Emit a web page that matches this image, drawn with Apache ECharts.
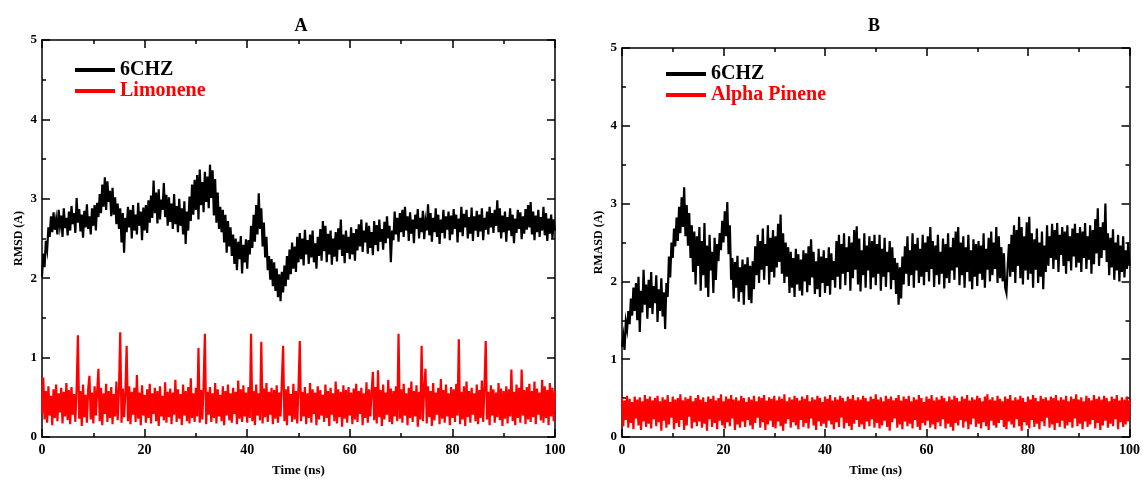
<!DOCTYPE html>
<html>
<head>
<meta charset="utf-8">
<script src="https://cdn.jsdelivr.net/npm/echarts@6/dist/echarts.min.js"></script>
<style>
  html, body { margin: 0; padding: 0; background: #fff; }
  #chart { width: 1143px; height: 482px; }
</style>
</head>
<body>
<div id="chart"></div>
<script>
// RMSD traces sampled every 0.25 ns over a 100 ns trajectory
const STEP_NS = 0.25;
const xTicks = [0, 20, 40, 60, 80, 100];
const yTicks = [0, 1, 2, 3, 4, 5];

const panelTitles = ['A', 'B'];
const yNames = ['RMSD (A)', 'RMASD (A)'];
const xName = 'Time (ns)';
const namesA = ['6CHZ', 'Limonene'];
const namesB = ['6CHZ', 'Alpha Pinene'];

// Panel A: protein backbone (6CHZ)
const rmsdA_protein = [
  2.02,2.31,2.14,2.47,2.36,2.64,2.52,2.78,2.58,2.83,2.61,2.74,2.55,2.86,2.66,2.79,2.52,2.88,2.63,2.76,
  2.54,2.84,2.60,2.91,2.68,2.82,2.57,3.01,2.70,2.87,2.59,2.80,2.51,2.85,2.64,2.93,2.62,2.78,2.55,2.88,
  2.66,2.92,2.60,2.95,2.77,3.06,2.82,3.18,2.90,3.27,2.86,3.22,2.96,3.10,2.78,3.14,2.80,3.02,2.68,2.94,
  2.62,2.88,2.45,2.82,2.32,2.76,2.58,2.90,2.64,2.86,2.50,2.92,2.60,2.80,2.55,2.95,2.66,2.84,2.48,2.89,
  2.60,2.92,2.57,2.98,2.70,3.04,2.76,3.23,2.82,3.08,2.69,3.12,2.74,2.99,2.86,3.20,2.77,3.05,2.66,3.02,
  2.71,2.94,2.62,3.06,2.68,2.91,2.58,3.00,2.66,2.88,2.55,2.97,2.43,2.84,2.60,3.03,2.72,3.18,2.80,3.24,
  2.86,3.30,2.74,3.37,2.92,3.21,2.83,3.34,2.96,3.28,2.88,3.43,3.01,3.36,2.79,3.25,2.70,3.08,2.62,2.90,
  2.58,2.86,2.45,2.80,2.32,2.72,2.40,2.64,2.28,2.55,2.18,2.50,2.10,2.46,2.24,2.53,2.06,2.42,2.20,2.49,
  2.12,2.48,2.30,2.66,2.38,2.80,2.46,2.92,2.55,3.07,2.62,2.88,2.40,2.70,2.26,2.52,2.10,2.28,1.98,2.24,
  1.90,2.20,1.84,2.12,1.76,2.05,1.71,2.08,1.82,2.16,1.90,2.28,1.98,2.36,2.05,2.45,2.12,2.40,2.08,2.52,
  2.20,2.57,2.24,2.50,2.16,2.61,2.30,2.48,2.18,2.55,2.26,2.60,2.20,2.44,2.12,2.52,2.28,2.62,2.22,2.72,
  2.34,2.66,2.20,2.56,2.30,2.60,2.17,2.50,2.27,2.58,2.21,2.63,2.36,2.74,2.28,2.55,2.19,2.60,2.32,2.52,
  2.24,2.64,2.30,2.57,2.22,2.62,2.35,2.68,2.40,2.74,2.33,2.60,2.45,2.70,2.31,2.66,2.38,2.58,2.29,2.72,
  2.42,2.67,2.34,2.74,2.46,2.62,2.36,2.71,2.44,2.78,2.50,2.66,2.20,2.60,2.48,2.84,2.55,2.76,2.46,2.82,
  2.58,2.86,2.52,2.90,2.60,2.78,2.47,2.83,2.56,2.74,2.44,2.80,2.62,2.87,2.50,2.76,2.58,2.85,2.49,2.72,
  2.60,2.93,2.54,2.82,2.46,2.76,2.58,2.88,2.52,2.80,2.43,2.74,2.57,2.86,2.50,2.78,2.61,2.84,2.48,2.79,
  2.55,2.87,2.62,2.80,2.45,2.75,2.58,2.90,2.53,2.81,2.64,2.86,2.50,2.77,2.56,2.89,2.47,2.78,2.60,2.85,
  2.52,2.80,2.59,2.88,2.48,2.76,2.61,2.84,2.55,2.90,2.64,2.82,2.57,2.86,2.66,2.98,2.58,2.88,2.50,2.79,
  2.58,2.84,2.46,2.77,2.60,2.88,2.53,2.80,2.44,2.75,2.57,2.86,2.62,2.83,2.49,2.78,2.56,2.87,2.61,2.92,
  2.64,2.96,2.55,2.84,2.48,2.79,2.58,2.86,2.52,2.77,2.60,2.90,2.54,2.82,2.47,2.75,2.56,2.80,2.50,2.74,
  2.60
];

// Panel A: ligand (Limonene)
const rmsdA_ligand = [
  0.30,0.75,0.22,0.58,0.18,0.64,0.27,0.52,0.15,0.60,0.24,0.66,0.20,0.55,0.31,0.62,0.17,0.57,0.26,0.68,
  0.21,0.59,0.16,0.63,0.28,0.54,0.19,0.61,1.28,0.23,0.58,0.14,0.66,0.25,0.53,0.18,0.60,0.77,0.22,0.56,
  0.17,0.64,0.27,0.57,0.86,0.20,0.62,0.15,0.55,0.29,0.67,0.19,0.58,0.24,0.63,0.16,0.54,0.26,0.70,0.21,
  0.58,1.32,0.18,0.61,0.25,0.55,1.15,0.20,0.64,0.16,0.57,0.28,0.62,0.19,0.78,0.23,0.56,0.15,0.65,0.27,
  0.53,0.18,0.60,0.24,0.67,0.17,0.55,0.29,0.62,0.20,0.58,0.14,0.64,0.26,0.52,0.21,0.69,0.18,0.57,0.25,
  0.61,0.16,0.56,0.28,0.72,0.19,0.60,0.23,0.54,0.15,0.66,0.27,0.58,0.20,0.63,0.17,0.74,0.24,0.55,0.19,
  0.62,0.26,1.12,0.18,0.59,0.22,0.65,1.30,0.16,0.57,0.28,0.63,0.19,0.55,0.24,0.68,0.17,0.60,0.26,0.53,
  0.20,0.64,0.15,0.58,0.27,0.66,0.21,0.55,0.18,0.62,0.29,0.57,0.16,0.71,0.23,0.60,0.19,0.65,0.26,0.56,
  0.18,0.63,0.24,1.30,0.20,0.58,0.15,0.66,0.27,0.55,0.21,1.20,0.17,0.61,0.25,0.68,0.19,0.57,0.28,0.62,
  0.16,0.59,0.23,0.65,0.18,0.56,0.26,0.70,1.15,0.20,0.60,0.15,0.64,0.27,0.54,0.19,0.67,0.22,0.58,0.17,
  0.62,1.21,0.20,0.57,0.26,0.63,0.16,0.55,0.24,0.68,0.18,0.60,0.29,0.56,0.15,0.64,0.22,0.59,0.27,0.53,
  0.19,0.66,0.24,0.58,0.14,0.62,0.28,0.55,0.20,0.70,0.17,0.60,0.25,0.57,0.13,0.65,0.23,0.59,0.18,0.63,
  0.27,0.56,0.16,0.61,0.22,0.67,0.19,0.58,0.29,0.62,0.15,0.55,0.24,0.69,0.18,0.60,0.26,0.57,0.82,0.21,
  0.63,0.17,0.84,0.25,0.59,0.14,0.66,0.22,0.56,0.28,0.72,0.19,0.61,0.16,0.58,0.26,0.64,0.20,1.30,0.23,
  0.60,0.18,0.67,0.27,0.55,0.15,0.62,0.24,0.70,0.19,0.58,0.26,0.65,0.13,0.57,0.22,1.15,0.20,0.61,0.86,
  0.17,0.64,0.25,0.58,0.14,0.68,0.21,0.56,0.28,0.62,0.16,0.73,0.23,0.59,0.18,0.66,0.26,0.55,0.15,0.63,
  0.24,0.60,0.19,0.67,0.27,1.23,0.16,0.57,0.22,0.64,0.14,0.70,0.25,0.58,0.18,0.62,0.28,0.55,0.20,0.66,
  0.16,0.59,0.24,0.71,0.19,0.63,1.21,0.22,0.57,0.15,0.65,0.27,0.60,0.18,0.56,0.25,0.68,0.21,0.61,0.14,
  0.58,0.23,0.64,0.17,0.60,0.26,0.85,0.20,0.57,0.15,0.66,0.24,0.62,0.18,0.85,0.27,0.59,0.16,0.63,0.22,
  0.67,0.19,0.58,0.25,0.70,0.16,0.61,0.28,0.56,0.21,0.72,0.18,0.64,0.24,0.59,0.15,0.68,0.26,0.62,0.20,
  0.58
];

// Panel B: protein backbone (6CHZ)
const rmsdB_protein = [
  1.16,1.30,1.12,1.48,1.38,1.62,1.45,1.78,1.56,1.92,1.62,1.98,1.50,2.06,1.35,1.88,1.60,2.15,1.70,1.96,
  1.52,2.02,1.66,2.12,1.58,1.94,1.72,2.08,1.48,1.90,1.62,2.04,1.55,1.86,1.39,1.98,1.80,2.32,2.05,2.50,
  2.30,2.68,2.45,2.82,2.52,2.96,2.62,3.08,2.70,3.21,2.58,2.98,2.46,2.88,2.30,2.72,2.12,2.64,1.96,2.58,
  2.20,2.70,1.88,2.52,2.08,2.75,1.92,2.46,1.80,2.60,2.14,2.38,1.85,2.56,2.02,2.48,2.26,2.62,2.40,2.78,
  2.50,2.90,2.58,3.02,2.35,2.72,2.02,2.30,1.78,2.25,1.92,2.33,1.74,2.18,1.86,2.28,1.70,2.22,1.95,2.31,
  1.76,2.20,1.72,2.26,1.90,2.45,2.08,2.60,1.98,2.52,2.15,2.68,2.02,2.48,2.20,2.72,1.96,2.56,2.12,2.66,
  2.05,2.58,2.18,2.74,2.25,2.86,2.10,2.62,1.98,2.50,2.06,2.44,1.85,2.38,1.92,2.30,1.80,2.42,1.96,2.35,
  1.88,2.28,1.82,2.40,2.00,2.36,1.86,2.45,1.95,2.54,2.05,2.38,1.84,2.26,1.90,2.42,1.80,2.32,1.98,2.40,
  1.85,2.30,1.94,2.44,1.83,2.36,2.02,2.26,1.92,2.52,2.06,2.60,1.90,2.48,2.10,2.62,1.95,2.44,2.12,2.58,
  1.88,2.50,2.04,2.66,2.15,2.71,1.96,2.55,1.87,2.40,2.08,2.62,1.92,2.46,2.14,2.58,1.90,2.52,2.05,2.60,
  1.95,2.48,2.10,2.60,1.88,2.42,2.06,2.56,1.93,2.38,2.12,2.52,1.90,2.44,2.02,2.30,1.84,2.24,1.70,2.18,
  1.78,2.32,1.96,2.45,2.10,2.58,1.94,2.40,2.08,2.62,1.92,2.48,2.14,2.56,1.98,2.42,2.06,2.60,1.95,2.50,
  2.12,2.58,2.00,2.70,2.16,2.52,1.93,2.46,2.08,2.60,1.96,2.38,2.10,2.55,1.91,2.48,2.04,2.62,1.98,2.44,
  2.14,2.56,2.02,2.64,2.18,2.70,1.95,2.50,2.08,2.58,1.92,2.44,2.12,2.60,2.00,2.40,1.90,2.54,2.06,2.48,
  1.94,2.52,2.10,2.46,2.02,2.62,1.92,2.42,2.15,2.56,2.00,2.64,2.08,2.50,2.16,2.70,1.98,2.58,2.04,2.44,
  2.00,2.36,1.92,1.85,2.20,2.48,2.06,2.60,2.12,2.72,1.98,2.66,2.20,2.83,2.04,2.70,1.96,2.58,2.14,2.76,
  2.02,2.83,2.10,2.62,1.92,2.54,2.15,2.68,1.98,2.50,2.06,2.64,1.90,2.46,2.12,2.72,2.20,2.58,2.30,2.74,
  2.16,2.66,2.28,2.75,2.12,2.60,2.34,2.70,2.20,2.64,2.10,2.72,2.26,2.58,2.14,2.68,2.32,2.74,2.18,2.62,
  2.24,2.70,2.12,2.64,2.30,2.75,2.16,2.58,2.28,2.72,2.10,2.66,2.22,2.80,2.36,2.94,2.20,2.70,2.30,2.76,
  2.40,3.00,2.25,2.62,2.08,2.56,2.18,2.67,2.02,2.50,2.14,2.60,2.00,2.46,2.12,2.58,2.05,2.40,2.16,2.50,
  2.20
];

// Panel B: ligand (Alpha Pinene)
const rmsdB_ligand = [
  0.50,0.14,0.47,0.22,0.53,0.12,0.49,0.18,0.45,0.10,0.52,0.24,0.48,0.15,0.51,0.09,0.46,0.20,0.54,0.13,
  0.49,0.17,0.52,0.11,0.47,0.23,0.50,0.14,0.53,0.19,0.46,0.08,0.51,0.21,0.48,0.12,0.54,0.16,0.45,0.25,
  0.52,0.10,0.48,0.18,0.50,0.13,0.55,0.22,0.47,0.09,0.51,0.15,0.49,0.26,0.53,0.11,0.46,0.19,0.50,0.14,
  0.54,0.20,0.48,0.12,0.51,0.17,0.45,0.08,0.52,0.23,0.49,0.13,0.53,0.18,0.47,0.10,0.50,0.21,0.55,0.15,
  0.46,0.11,0.52,0.19,0.49,0.14,0.54,0.24,0.48,0.09,0.51,0.16,0.47,0.12,0.53,0.20,0.50,0.13,0.45,0.22,
  0.51,0.15,0.48,0.10,0.53,0.18,0.46,0.25,0.52,0.12,0.50,0.19,0.54,0.09,0.47,0.16,0.51,0.21,0.49,0.13,
  0.53,0.11,0.47,0.20,0.52,0.14,0.49,0.08,0.55,0.17,0.46,0.23,0.51,0.12,0.48,0.19,0.53,0.15,0.50,0.10,
  0.47,0.22,0.52,0.13,0.49,0.18,0.54,0.11,0.46,0.24,0.51,0.15,0.48,0.09,0.53,0.20,0.50,0.14,0.45,0.17,
  0.52,0.12,0.49,0.21,0.54,0.16,0.47,0.10,0.51,0.19,0.48,0.13,0.53,0.25,0.50,0.11,0.46,0.18,0.52,0.14,
  0.49,0.09,0.54,0.17,0.47,0.22,0.51,0.13,0.48,0.16,0.53,0.10,0.50,0.20,0.46,0.14,0.52,0.23,0.49,0.12,
  0.55,0.18,0.48,0.11,0.51,0.15,0.46,0.21,0.53,0.13,0.49,0.08,0.52,0.19,0.47,0.24,0.50,0.12,0.54,0.16,
  0.47,0.10,0.52,0.20,0.49,0.14,0.53,0.17,0.46,0.11,0.51,0.22,0.48,0.13,0.54,0.09,0.50,0.18,0.45,0.15,
  0.52,0.21,0.49,0.12,0.54,0.16,0.47,0.10,0.51,0.19,0.48,0.14,0.53,0.23,0.50,0.11,0.46,0.17,0.52,0.13,
  0.48,0.08,0.53,0.18,0.50,0.15,0.46,0.22,0.52,0.12,0.49,0.20,0.54,0.10,0.47,0.16,0.51,0.24,0.48,0.13,
  0.53,0.17,0.50,0.11,0.46,0.19,0.52,0.14,0.55,0.09,0.48,0.21,0.51,0.15,0.47,0.12,0.53,0.18,0.49,0.22,
  0.46,0.13,0.52,0.10,0.49,0.20,0.54,0.16,0.47,0.12,0.51,0.23,0.48,0.14,0.53,0.08,0.50,0.19,0.45,0.15,
  0.52,0.11,0.48,0.22,0.54,0.13,0.50,0.17,0.46,0.10,0.53,0.20,0.49,0.14,0.51,0.25,0.47,0.12,0.52,0.16,
  0.50,0.09,0.54,0.18,0.47,0.13,0.51,0.21,0.48,0.11,0.53,0.15,0.46,0.19,0.52,0.12,0.49,0.24,0.55,0.14,
  0.48,0.17,0.51,0.10,0.46,0.20,0.53,0.13,0.50,0.16,0.47,0.22,0.54,0.11,0.49,0.18,0.52,0.09,0.48,0.15,
  0.53,0.21,0.50,0.12,0.46,0.17,0.52,0.14,0.49,0.23,0.54,0.10,0.47,0.19,0.51,0.13,0.48,0.16,0.52,0.20,
  0.47
];

const SERIF = '"Liberation Serif", "Times New Roman", serif';
const BLACK = '#000000';
const RED = '#ff0000';

function pairs(values) {
  return values.map((v, i) => [i * STEP_NS, v]);
}

function xAxisFor(gridIndex, position) {
  const bottom = position === 'bottom';
  return {
    type: 'value', gridIndex, position,
    min: xTicks[0], max: xTicks[xTicks.length - 1], interval: xTicks[1] - xTicks[0],
    name: bottom ? xName : '',
    nameLocation: 'middle', nameGap: 27,
    nameTextStyle: { fontFamily: SERIF, fontWeight: 'bold', fontSize: 13, color: BLACK },
    axisLine: { show: true, onZero: false, lineStyle: { color: BLACK, width: 1.5 } },
    axisTick: { show: true, inside: true, length: 8, lineStyle: { color: BLACK, width: 1.5 } },
    minorTick: { show: true, splitNumber: 2, length: 4, lineStyle: { color: BLACK, width: 1.5 } },
    axisLabel: { show: bottom, margin: 6, fontFamily: SERIF, fontWeight: 'bold', fontSize: 14, color: BLACK },
    splitLine: { show: false }
  };
}

function yAxisFor(gridIndex, position, name) {
  const left = position === 'left';
  return {
    type: 'value', gridIndex, position,
    min: yTicks[0], max: yTicks[yTicks.length - 1], interval: yTicks[1] - yTicks[0],
    name: left ? name : '',
    nameLocation: 'middle', nameGap: 17, nameRotate: 90,
    nameTextStyle: { fontFamily: SERIF, fontWeight: 'bold', fontSize: 12, color: BLACK },
    axisLine: { show: true, onZero: false, lineStyle: { color: BLACK, width: 1.5 } },
    axisTick: { show: true, inside: true, length: 8, lineStyle: { color: BLACK, width: 1.5 } },
    minorTick: { show: true, splitNumber: 2, length: 4, lineStyle: { color: BLACK, width: 1.5 } },
    axisLabel: { show: left, margin: 5, fontFamily: SERIF, fontWeight: 'bold', fontSize: 13, color: BLACK },
    splitLine: { show: false }
  };
}

function trace(name, values, color, axisIndex) {
  return {
    name, type: 'line', data: pairs(values),
    xAxisIndex: axisIndex, yAxisIndex: axisIndex,
    showSymbol: false, symbol: 'none',
    lineStyle: { color, width: 2.2, join: 'miter' },
    itemStyle: { color },
    sampling: null, silent: true
  };
}

function legendFor(names, left, top) {
  return {
    orient: 'vertical', left, top, padding: 0,
    itemWidth: 40, itemHeight: 4, itemGap: 1,
    icon: 'rect',
    textStyle: { fontFamily: SERIF, fontWeight: 'bold', fontSize: 20 },
    data: [
      { name: names[0], textStyle: { color: BLACK } },
      { name: names[1], textStyle: { color: RED } }
    ]
  };
}

const chart = echarts.init(document.getElementById('chart'), null, { renderer: 'canvas' });

chart.setOption({
  animation: false,
  backgroundColor: '#ffffff',
  title: [
    { text: panelTitles[0], left: 296, top: 12, textAlign: 'center',
      textStyle: { fontFamily: SERIF, fontWeight: 'bold', fontSize: 18, color: BLACK } },
    { text: panelTitles[1], left: 869, top: 12, textAlign: 'center',
      textStyle: { fontFamily: SERIF, fontWeight: 'bold', fontSize: 18, color: BLACK } }
  ],
  legend: [legendFor(namesA, 75, 60), legendFor(namesB, 666, 64)],
  grid: [
    { left: 42, top: 40, width: 513, height: 405 },
    { left: 622, top: 48, width: 511, height: 397 }
  ],
  xAxis: [
    xAxisFor(0, 'bottom'), xAxisFor(1, 'bottom'),
    xAxisFor(0, 'top'), xAxisFor(1, 'top')
  ],
  yAxis: [
    yAxisFor(0, 'left', yNames[0]), yAxisFor(1, 'left', yNames[1]),
    yAxisFor(0, 'right', ''), yAxisFor(1, 'right', '')
  ],
  series: [
    trace(namesA[0], rmsdA_protein, BLACK, 0),
    trace(namesA[1], rmsdA_ligand, RED, 0),
    trace(namesB[0], rmsdB_protein, BLACK, 1),
    trace(namesB[1], rmsdB_ligand, RED, 1)
  ]
});
</script>
</body>
</html>
